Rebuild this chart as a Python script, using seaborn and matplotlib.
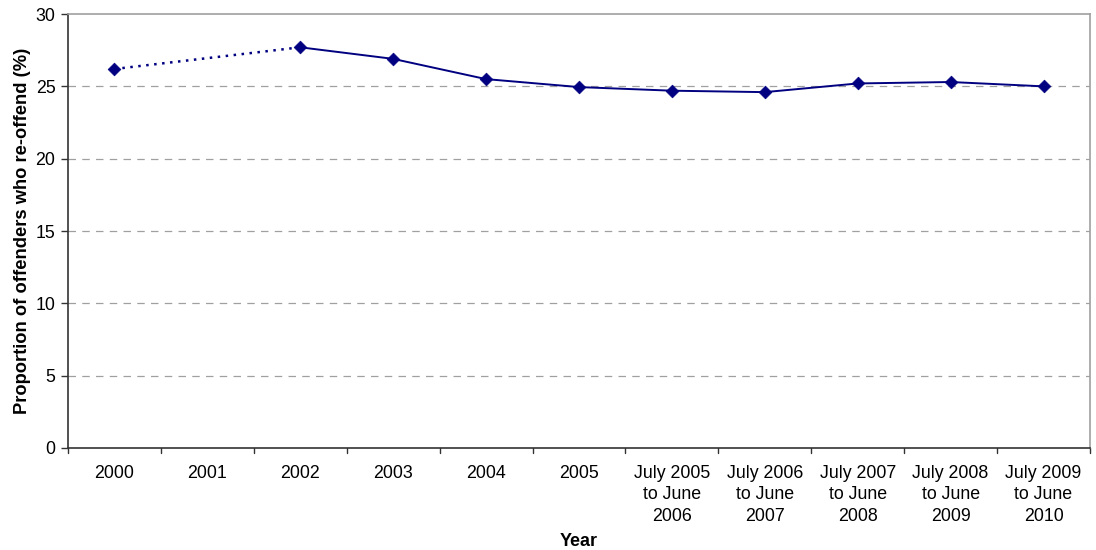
import matplotlib
matplotlib.use("Agg")
import matplotlib.pyplot as plt
import seaborn as sns
import numpy as np
import pandas as pd

# Categories along the x axis
categories = ["2000", "2001", "2002", "2003", "2004", "2005",
              "July 2005\nto June\n2006", "July 2006\nto June\n2007",
              "July 2007\nto June\n2008", "July 2008\nto June\n2009",
              "July 2009\nto June\n2010"]
# Proportion re-offending (%); no figure for 2001
reoffend = [26.2, np.nan, 27.7, 26.9, 25.5, 24.95, 24.7, 24.6, 25.2, 25.3, 25.0]
y_ticks = [0, 5, 10, 15, 20, 25, 30]

sns.set_style("white")
plt.rcParams["font.family"] = ["Liberation Sans", "DejaVu Sans"]
plt.rcParams["text.color"] = "black"
plt.rcParams["axes.labelcolor"] = "black"
plt.rcParams["xtick.color"] = "black"
plt.rcParams["ytick.color"] = "black"

df = pd.DataFrame({"pos": np.arange(len(categories)), "value": reoffend})
valid = df.dropna()

fig = plt.figure(figsize=(10.96, 5.5), dpi=100)
ax = fig.add_axes([0.062, 0.1855, 0.9325, 0.789])

navy = "#000080"

# Dotted link across the missing year
first_run = valid.iloc[:2]
ax.plot(first_run["pos"], first_run["value"], linestyle=(0, (1.0, 2.2)),
        color=navy, linewidth=1.8, zorder=2)

# Continuous series from 2002 onward
solid = valid.iloc[1:]
sns.lineplot(data=solid, x="pos", y="value", ax=ax, color=navy,
             linewidth=1.4, zorder=3)

# Diamond markers on every reported value
sns.scatterplot(data=valid, x="pos", y="value", ax=ax, marker="D",
                color=navy, s=42, edgecolor=navy, linewidth=0.5, zorder=4)

ax.set_xlim(-0.5, len(categories) - 0.5)
ax.set_ylim(0, 30)
ax.set_yticks(y_ticks)
ax.set_yticklabels([str(t) for t in y_ticks], fontsize=12.8)
ax.set_xticks(np.arange(len(categories)))
ax.set_xticklabels(categories, fontsize=12.8, linespacing=1.36)
ax.tick_params(axis="x", length=0, pad=12)
ax.tick_params(axis="y", length=5, width=1, direction="out", left=True,
               color="#333333", pad=4)

# Boundary ticks between categories
for b in np.arange(-0.5, len(categories), 1.0):
    ax.plot([b, b], [0, -0.012], transform=ax.get_xaxis_transform(),
            color="#333333", linewidth=1, clip_on=False)

for t in y_ticks[1:-1]:
    ax.axhline(t, color="#a0a0a0", linestyle=(0, (6, 5)), linewidth=0.9,
               zorder=1)

ax.spines["left"].set_color("#333333")
ax.spines["bottom"].set_color("#333333")
ax.spines["top"].set_color("#a0a0a0")
ax.spines["right"].set_color("#a0a0a0")
for s in ax.spines.values():
    s.set_linewidth(1.2)

ax.set_xlabel("Year", fontsize=13, fontweight="bold", labelpad=6)
ax.set_ylabel("Proportion of offenders who re-offend (%)", fontsize=13.2,
              fontweight="bold", labelpad=3)

fig.savefig("out.png", dpi=100)
